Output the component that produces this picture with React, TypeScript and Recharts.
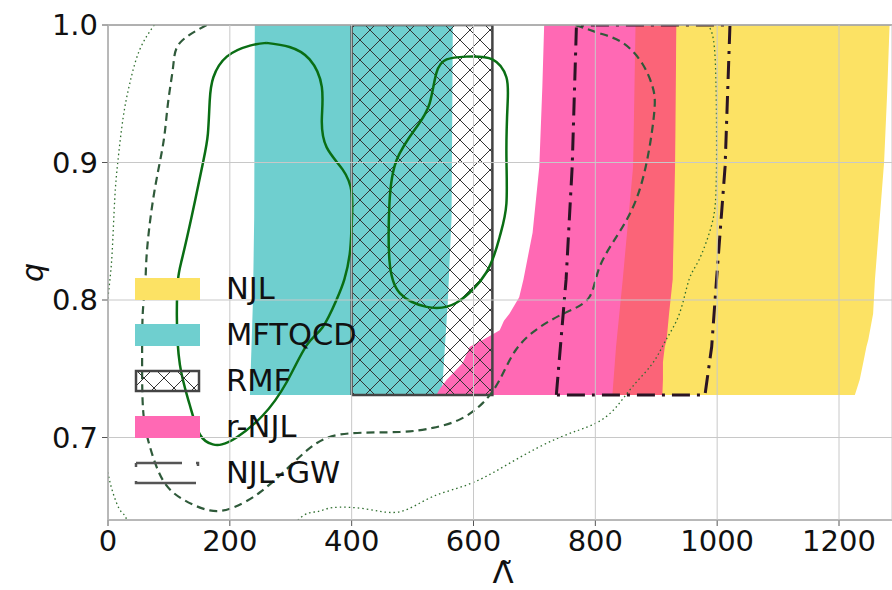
import React from "react";
import {
  ComposedChart,
  Area,
  Line,
  XAxis,
  YAxis,
  CartesianGrid,
  ReferenceLine,
  Legend,
} from "recharts";

// axis ticks
const X_TICKS = [0, 200, 400, 600, 800, 1000, 1200];
const Y_TICKS = [0.7, 0.8, 0.9, 1.0];

// filled bands: q levels with left / right edge in Lambda
const NJL_Q = [0.731, 0.742, 0.755, 0.766, 0.771, 0.79, 0.815, 0.9, 0.95, 1.0];
const NJL_LEFT = [910, 911, 911, 914, 917, 921, 927, 931, 932, 933];
const NJL_RIGHT = [1226, 1234, 1240, 1245, 1248, 1256, 1259, 1274, 1279, 1283];

const RED_Q = [0.731, 0.766, 0.815, 0.897, 1.0];
const RED_LEFT = [828, 834, 845, 862, 866];
const RED_RIGHT = [914, 918, 928, 932, 934];

const PINK_Q = [0.731, 0.735, 0.742, 0.754, 0.766, 0.773, 0.775, 0.778, 0.785, 0.79, 0.802, 0.815, 0.849, 0.897, 0.955, 1.0];
const PINK_LEFT = [539, 544, 556, 582, 594, 623, 631, 643, 650, 659, 675, 682, 697, 708, 713, 716];
const PINK_RIGHT = [840, 840, 840, 840, 840, 840, 840, 840, 845, 845, 850, 850, 860, 865, 868, 870];

const TEAL_Q = [0.731, 0.8, 0.86, 1.0];
const TEAL_LEFT = [233, 238, 240, 241];
const TEAL_RIGHT = [548, 558, 564, 566];

const RMF_Q = [0.731, 1.0];
const RMF_LEFT = [400, 400];
const RMF_RIGHT = [631, 631];

// outlines (closed polygons)
const RMF_BOX_L = [400, 400, 631, 631, 400];
const RMF_BOX_Q = [0.731, 1.0, 1.0, 0.731, 0.731];

const GW_L = [736, 752, 762, 769, 1021, 1013, 999, 991, 980, 736];
const GW_Q = [0.731, 0.815, 0.897, 1.0, 1.0, 0.897, 0.815, 0.766, 0.731, 0.731];

// contours
const SOLID_A_L = [260, 298, 331, 351, 351, 359, 385, 400, 400, 397, 388, 375, 352, 326, 293, 254, 211, 187, 172, 151, 134, 118, 113, 115, 121, 137, 156, 164, 167, 173, 195, 233, 260];
const SOLID_A_Q = [0.987, 0.984, 0.975, 0.955, 0.931, 0.911, 0.895, 0.878, 0.855, 0.834, 0.815, 0.8, 0.78, 0.767, 0.74, 0.716, 0.7, 0.695, 0.695, 0.702, 0.724, 0.753, 0.789, 0.815, 0.829, 0.86, 0.9, 0.921, 0.945, 0.962, 0.977, 0.985, 0.987];

const SOLID_B_L = [588, 631, 654, 656, 654, 654, 643, 621, 572, 523, 479, 462, 462, 474, 507, 528, 539, 556, 588];
const SOLID_B_Q = [0.977, 0.975, 0.962, 0.943, 0.907, 0.87, 0.846, 0.82, 0.798, 0.795, 0.805, 0.829, 0.87, 0.902, 0.926, 0.943, 0.965, 0.975, 0.977];

const DASHED_L = [162, 118, 107, 99, 93, 85, 74, 64, 61, 57, 56, 58, 69, 90, 123, 167, 205, 249, 298, 343, 397, 479, 533, 577, 615, 643, 670, 708, 752, 790, 807, 839, 867, 886, 897, 894, 877, 845, 807, 774, 766];
const DASHED_Q = [1.0, 0.987, 0.97, 0.945, 0.921, 0.9, 0.873, 0.836, 0.81, 0.79, 0.754, 0.718, 0.693, 0.669, 0.655, 0.647, 0.649, 0.66, 0.679, 0.696, 0.703, 0.704, 0.707, 0.713, 0.725, 0.742, 0.764, 0.78, 0.791, 0.802, 0.824, 0.849, 0.873, 0.904, 0.938, 0.955, 0.972, 0.987, 0.994, 0.999, 1.0];

const DOTTED_L = [76, 52, 36, 25, 16, 11, 7, 2, -6, -8, -5, 0, 8, 20, 31, 60, 150, 250, 312, 343, 369, 424, 479, 533, 598, 670, 741, 799, 834, 861, 894, 916, 938, 954, 970, 990, 998, 999, 998, 994, 985];
const DOTTED_Q = [1.0, 0.982, 0.958, 0.933, 0.9, 0.873, 0.836, 0.81, 0.77, 0.72, 0.69, 0.674, 0.66, 0.647, 0.64, 0.617, 0.602, 0.612, 0.64, 0.646, 0.649, 0.648, 0.646, 0.657, 0.667, 0.684, 0.7, 0.71, 0.722, 0.737, 0.754, 0.771, 0.79, 0.815, 0.829, 0.853, 0.878, 0.92, 0.96, 0.989, 1.0];

// legend
const LEGEND_LABELS = ["NJL", "MFTQCD", "RMF", "r-NJL", "NJL-GW"];
const LEGEND_KINDS = ["fill", "fill", "hatch", "fill", "dashdot"];

const COLORS = {
  njl: "#fce264",
  red: "#fb6478",
  pink: "#ff69b4",
  teal: "#6fcfcf",
  hatch: "#333333",
  box: "#444444",
  gw: "#2a1424",
  solid: "#0a6e14",
  dashed: "#2f5a3a",
  dotted: "#2e6e2e",
  grid: "#c8c8c8",
  axis: "#555555",
};
const LEGEND_COLORS = [COLORS.njl, COLORS.teal, COLORS.box, COLORS.pink, COLORS.gw];

const FONT = "'DejaVu Sans', sans-serif";

const band = (qs: number[], left: number[], right: number[]) =>
  qs.map((q, i) => ({ q, range: [left[i], right[i]] }));
const curve = (ls: number[], qs: number[]) =>
  ls.map((L, i) => ({ q: qs[i], L }));

const njlData = band(NJL_Q, NJL_LEFT, NJL_RIGHT);
const redData = band(RED_Q, RED_LEFT, RED_RIGHT);
const pinkData = band(PINK_Q, PINK_LEFT, PINK_RIGHT);
const tealData = band(TEAL_Q, TEAL_LEFT, TEAL_RIGHT);
const rmfData = band(RMF_Q, RMF_LEFT, RMF_RIGHT);

const rmfBox = curve(RMF_BOX_L, RMF_BOX_Q);
const gwBox = curve(GW_L, GW_Q);
const solidA = curve(SOLID_A_L, SOLID_A_Q);
const solidB = curve(SOLID_B_L, SOLID_B_Q);
const dashed = curve(DASHED_L, DASHED_Q);
const dotted = curve(DOTTED_L, DOTTED_Q);

const Swatch = ({ kind, color }: { kind: string; color: string }) => (
  <svg width={68} height={26} style={{ display: "block" }}>
    <defs>
      <pattern id="legendHatch" width={20} height={20} patternUnits="userSpaceOnUse">
        <path d="M0,0 L20,20 M0,20 L20,0" stroke={COLORS.hatch} strokeWidth={1} />
      </pattern>
    </defs>
    {kind === "fill" && <rect x={1} y={2} width={65} height={22} fill={color} />}
    {kind === "hatch" && (
      <rect x={2} y={3} width={63} height={20} fill="url(#legendHatch)" stroke={color} strokeWidth={2.5} />
    )}
    {kind === "dashdot" && (
      <rect
        x={2}
        y={3}
        width={62}
        height={20}
        fill="none"
        stroke="#555"
        strokeWidth={2.5}
        strokeDasharray="46 14 5 19 62 14 4 0"
      />
    )}
  </svg>
);

const renderLegend = () => (
  <div style={{ fontFamily: FONT, fontSize: 30.5, color: "#111" }}>
    {LEGEND_LABELS.map((label, i) => (
      <div key={label} style={{ display: "flex", alignItems: "center", height: 46 }}>
        <Swatch kind={LEGEND_KINDS[i]} color={LEGEND_COLORS[i]} />
        <span style={{ marginLeft: 24, lineHeight: "46px" }}>{label}</span>
      </div>
    ))}
  </div>
);

const YLabel = (props: any) => {
  const vb = props.viewBox || {};
  return (
    <text
      x={vb.x + 32}
      y={vb.y + vb.height / 2}
      transform={`rotate(-90 ${vb.x + 32} ${vb.y + vb.height / 2})`}
      textAnchor="middle"
      dominantBaseline="central"
      fontFamily={FONT}
      fontStyle="italic"
      fontSize={30}
      fill="#111"
    >
      q
    </text>
  );
};

const XLabel = (props: any) => {
  const vb = props.viewBox || {};
  return (
    <text
      x={vb.x + vb.width / 2 + 3}
      y={vb.y + 63}
      textAnchor="middle"
      fontFamily={FONT}
      fontSize={31}
      fill="#111"
    >
      {"\u039B\u0303"}
    </text>
  );
};

export default function App() {
  return (
    <div style={{ position: "absolute", left: 0, top: 0, width: 892, height: 590, background: "#fff" }}>
      <ComposedChart
        width={892}
        height={590}
        layout="vertical"
        margin={{ top: 25, right: 0, bottom: 0, left: 0 }}
      >
        <defs>
          <pattern id="rmfHatch" width={20} height={20} patternUnits="userSpaceOnUse">
            <path d="M0,0 L20,20 M0,20 L20,0" stroke={COLORS.hatch} strokeWidth={1} />
          </pattern>
        </defs>
        <XAxis
          type="number"
          domain={[0, 1287]}
          ticks={X_TICKS}
          allowDataOverflow
          height={70}
          tickSize={6}
          tickMargin={4}
          stroke={COLORS.axis}
          tick={{ fontSize: 29, fill: "#111", fontFamily: FONT }}
          label={XLabel}
        />
        <YAxis
          type="number"
          dataKey="q"
          domain={[0.64, 1.0]}
          ticks={Y_TICKS}
          reversed
          allowDataOverflow
          width={108}
          tickSize={6}
          tickMargin={4}
          stroke={COLORS.axis}
          tickFormatter={(v: number) => v.toFixed(1)}
          tick={{ fontSize: 29, fill: "#111", fontFamily: FONT }}
          label={YLabel}
        />
        <Area data={tealData} dataKey="range" type="linear" fill={COLORS.teal} fillOpacity={1} stroke="none" isAnimationActive={false} />
        <Area data={pinkData} dataKey="range" type="linear" fill={COLORS.pink} fillOpacity={1} stroke="none" isAnimationActive={false} />
        <Area data={redData} dataKey="range" type="linear" fill={COLORS.red} fillOpacity={1} stroke="none" isAnimationActive={false} />
        <Area data={njlData} dataKey="range" type="linear" fill={COLORS.njl} fillOpacity={1} stroke="none" isAnimationActive={false} />
        <Area data={rmfData} dataKey="range" type="linear" fill="url(#rmfHatch)" fillOpacity={1} stroke="none" isAnimationActive={false} />
        <CartesianGrid stroke={COLORS.grid} strokeWidth={1} zIndex={500} />
        <ReferenceLine y={1.0} stroke="#777" strokeWidth={1.5} />
        <Line data={rmfBox} dataKey="L" type="linear" stroke={COLORS.box} strokeWidth={2.5} dot={false} isAnimationActive={false} />
        <Line data={dotted} dataKey="L" type="natural" stroke={COLORS.dotted} strokeWidth={1.3} strokeDasharray="1.5 3" dot={false} isAnimationActive={false} />
        <Line data={dashed} dataKey="L" type="natural" stroke={COLORS.dashed} strokeWidth={2.2} strokeDasharray="8 5" dot={false} isAnimationActive={false} />
        <Line data={solidA} dataKey="L" type="natural" stroke={COLORS.solid} strokeWidth={2.5} dot={false} isAnimationActive={false} />
        <Line data={solidB} dataKey="L" type="natural" stroke={COLORS.solid} strokeWidth={2.5} dot={false} isAnimationActive={false} />
        <Line data={gwBox} dataKey="L" type="linear" stroke={COLORS.gw} strokeWidth={3} strokeDasharray="18 7 3 7" dot={false} isAnimationActive={false} />
        <Legend
          layout="horizontal"
          verticalAlign="middle"
          align="center"
          content={renderLegend}
          wrapperStyle={{ position: "absolute", left: 134, top: 266, width: 280, height: 230 }}
        />
      </ComposedChart>
    </div>
  );
}
